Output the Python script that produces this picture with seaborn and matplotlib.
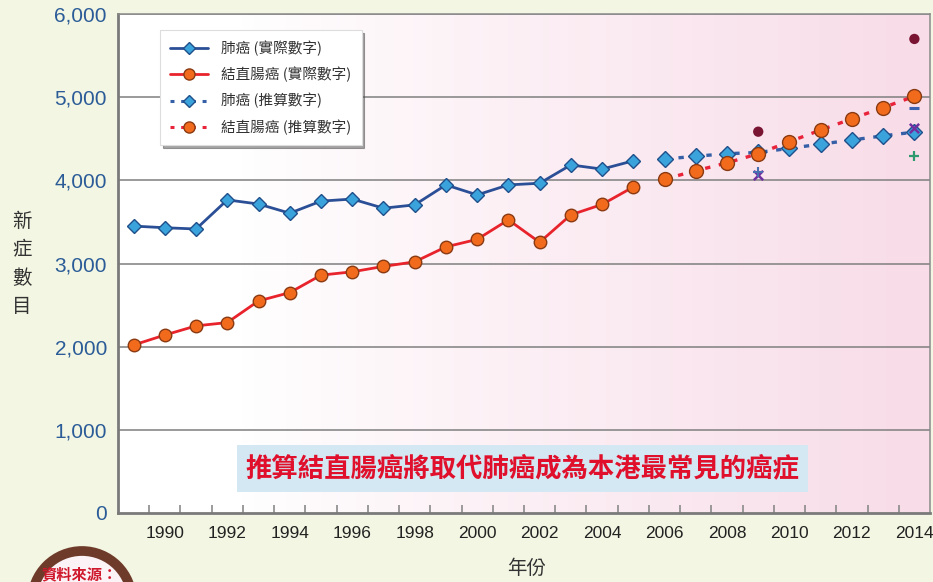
import numpy as np
import pandas as pd
import matplotlib
matplotlib.use("Agg")
import matplotlib.pyplot as plt
import seaborn as sns
from matplotlib.lines import Line2D
from matplotlib.patches import Rectangle, Ellipse
from matplotlib.ticker import FuncFormatter, FixedLocator

# ---------------- data ----------------
years_actual = list(range(1989, 2006))
lung_actual = [3450, 3430, 3415, 3765, 3715, 3605, 3750, 3775, 3665, 3705,
               3945, 3825, 3945, 3965, 4185, 4135, 4235]
crc_actual = [2020, 2140, 2250, 2290, 2550, 2650, 2860, 2900, 2965, 3020,
              3200, 3290, 3525, 3255, 3585, 3710, 3920]

years_proj = list(range(2006, 2015))
lung_proj = [4255, 4290, 4320, 4335, 4385, 4435, 4485, 4535, 4580]
crc_proj = [4015, 4115, 4210, 4320, 4465, 4605, 4740, 4875, 5010]

extra_years_circle = [2009, 2014]
extra_circle = [4585, 5700]
extra_years_x = [2009, 2014]
extra_x = [4060, 4630]
extra_years_plus = [2014]
extra_plus = [4290]
extra_years_plus_blue = [2009]
extra_plus_blue = [4100]
extra_years_dash = [2014]
extra_dash = [4870]

legend_labels = ["肺癌 (實際數字)", "結直腸癌 (實際數字)", "肺癌 (推算數字)", "結直腸癌 (推算數字)"]
title_note = "推算結直腸癌將取代肺癌成為本港最常見的癌症"
y_label = "新症數目"
x_label = "年份"
source_label = "資料來源："
y_ticks = [0, 1000, 2000, 3000, 4000, 5000, 6000]
x_tick_years = list(range(1990, 2015, 2))

# ---------------- style ----------------
sns.set_style("white")
plt.rcParams['font.family'] = ['Noto Sans CJK TC', 'DejaVu Sans']

W, H = 933, 582
fig = plt.figure(figsize=(W / 100, H / 100), dpi=100)
fig.patch.set_facecolor('#f3f6e2')

L, R, T, B = 118, 930, 14, 513
ax = fig.add_axes([L / W, 1 - B / H, (R - L) / W, (B - T) / H])
ax.set_xlim(1988.5, 2014.5)
ax.set_ylim(0, 6000)

# plot area gradient (white -> pink)
grad = np.linspace(0, 1, 256)
grad = np.clip((grad - 0.15) / 0.85, 0, 1) ** 0.9
c0 = np.array([1.0, 1.0, 1.0])
c1 = np.array([0xf8, 0xdc, 0xe8]) / 255
img = c0[None, None, :] * (1 - grad[None, :, None]) + c1[None, None, :] * grad[None, :, None]
ax.imshow(img, extent=[1988.5, 2014.5, 0, 6000], aspect='auto', zorder=0)

# grid
for yv in y_ticks[1:]:
    ax.axhline(yv, color='#7f7f7f', lw=1.1, zorder=1)

lung_line = '#2b4f96'
lung_face = '#3ba3dc'
lung_edge = '#1f4f8a'
crc_line = '#e8232b'
crc_face = '#f26b1d'
crc_edge = '#8a3a12'

df_la = pd.DataFrame({'year': years_actual, 'value': lung_actual})
df_ca = pd.DataFrame({'year': years_actual, 'value': crc_actual})
df_lp = pd.DataFrame({'year': years_proj, 'value': lung_proj})
df_cp = pd.DataFrame({'year': years_proj, 'value': crc_proj})

sns.lineplot(data=df_la, x='year', y='value', ax=ax, color=lung_line, lw=2,
             marker='D', markersize=7, markerfacecolor=lung_face,
             markeredgecolor=lung_edge, markeredgewidth=1, zorder=4)
sns.lineplot(data=df_ca, x='year', y='value', ax=ax, color=crc_line, lw=2,
             marker='o', markersize=9, markerfacecolor=crc_face,
             markeredgecolor=crc_edge, markeredgewidth=1, zorder=4)
sns.lineplot(data=df_lp, x='year', y='value', ax=ax, color='#3560a8', lw=2.4,
             linestyle=(0, (1.6, 2.6)),
             marker='D', markersize=8, markerfacecolor=lung_face,
             markeredgecolor=lung_edge, markeredgewidth=1, zorder=4)
sns.lineplot(data=df_cp, x='year', y='value', ax=ax, color='#e8233a', lw=2.4,
             linestyle=(0, (1.6, 2.6)),
             marker='o', markersize=10, markerfacecolor=crc_face,
             markeredgecolor=crc_edge, markeredgewidth=1, zorder=5)

# extra markers
sns.scatterplot(x=extra_years_circle, y=extra_circle, ax=ax, color='#7a1433',
                s=55, edgecolor='none', zorder=6)
sns.scatterplot(x=extra_years_x, y=extra_x, ax=ax, color='#7030a0', marker='x',
                s=45, linewidth=1.8, zorder=6)
sns.scatterplot(x=extra_years_plus_blue, y=extra_plus_blue, ax=ax, color='#4a6fb0',
                marker='+', s=60, linewidth=1.5, zorder=6)
sns.scatterplot(x=extra_years_plus, y=extra_plus, ax=ax, color='#2e9a6e', marker='+',
                s=60, linewidth=1.6, zorder=6)
sns.scatterplot(x=extra_years_dash, y=extra_dash, ax=ax, color='#3a62b0', marker='_',
                s=60, linewidth=2.2, zorder=6)

# axes / ticks
for sp in ax.spines.values():
    sp.set_color('#8a8a8a')
    sp.set_linewidth(1.1)
ax.spines['left'].set_linewidth(2)
ax.spines['bottom'].set_linewidth(2)
ax.spines['left'].set_color('#7a7a7a')
ax.spines['bottom'].set_color('#7a7a7a')

ax.set_yticks(y_ticks)
ax.yaxis.set_major_formatter(FuncFormatter(lambda v, p: f"{int(v):,}"))
ax.tick_params(axis='y', length=0, pad=8, labelsize=15, labelcolor='#2b5c98')
for lab in ax.get_yticklabels():
    lab.set_fontfamily(['Liberation Sans', 'DejaVu Sans'])

ax.set_xticks(x_tick_years)
ax.set_xticklabels([str(y) for y in x_tick_years])
ax.xaxis.set_minor_locator(FixedLocator(np.arange(1989.5, 2014.5, 1.0)))
ax.tick_params(axis='x', which='major', length=0, pad=9, labelsize=12.5, labelcolor='#222222')
ax.tick_params(axis='x', which='minor', direction='in', length=6, width=1.2, color='#8a8a8a',
               bottom=True)
for lab in ax.get_xticklabels():
    lab.set_fontfamily(['Liberation Sans', 'DejaVu Sans'])
ax.set_xlabel('')
ax.set_ylabel('')

# legend
handles = [
    Line2D([], [], color=lung_line, lw=2, marker='D', markersize=6,
           markerfacecolor=lung_face, markeredgecolor=lung_edge),
    Line2D([], [], color=crc_line, lw=2, marker='o', markersize=8,
           markerfacecolor=crc_face, markeredgecolor=crc_edge),
    Line2D([], [], color='#3560a8', lw=2.2, linestyle=(0, (1.3, 2.2)), marker='D', markersize=6,
           markerfacecolor=lung_face, markeredgecolor=lung_edge),
    Line2D([], [], color='#e8233a', lw=2.2, linestyle=(0, (1.3, 2.2)), marker='o', markersize=8,
           markerfacecolor=crc_face, markeredgecolor=crc_edge),
]
leg = ax.legend(handles, legend_labels, loc='upper left',
                bbox_to_anchor=((160 - L) / (R - L), 1 - (30 - T) / (B - T)),
                fontsize=10.5, frameon=True, fancybox=False, shadow=True,
                handlelength=2.6, handletextpad=0.9, labelspacing=0.75,
                borderpad=0.7, borderaxespad=0)
leg.get_frame().set_facecolor('white')
leg.get_frame().set_edgecolor('#dddddd')
leg.get_frame().set_linewidth(0.8)
for t in leg.get_texts():
    t.set_color('#333333')
leg.set_zorder(10)

# note box
fig.patches.append(Rectangle((237 / W, 1 - 492 / H), (808 - 237) / W, 47 / H,
                             transform=fig.transFigure, facecolor='#d4e8f4',
                             edgecolor='none', zorder=3))
fig.text(522 / W, 1 - 469 / H, title_note, ha='center', va='center',
         fontsize=19, fontweight='bold', color='#e0102c', zorder=4)

# axis labels
fig.text(22 / W, 1 - 264 / H, "\n".join(y_label), ha='center', va='center',
         fontsize=14, color='#333333', linespacing=1.45)
fig.text(527 / W, 1 - 569 / H, x_label, ha='center', va='center',
         fontsize=14, color='#333333')

# source badge
fig.patches.append(Ellipse((82 / W, 1 - 601 / H), 2 * 50 / W, 2 * 50 / H,
                           transform=fig.transFigure, facecolor='#fbf3f5',
                           edgecolor='#6e3b2a', linewidth=7, zorder=2))
fig.text(80 / W, 1 - 574 / H, source_label, ha='center', va='center',
         fontsize=11, fontweight='bold', color='#d0182c', zorder=3)

fig.savefig('out.png', dpi=100, facecolor=fig.get_facecolor())
